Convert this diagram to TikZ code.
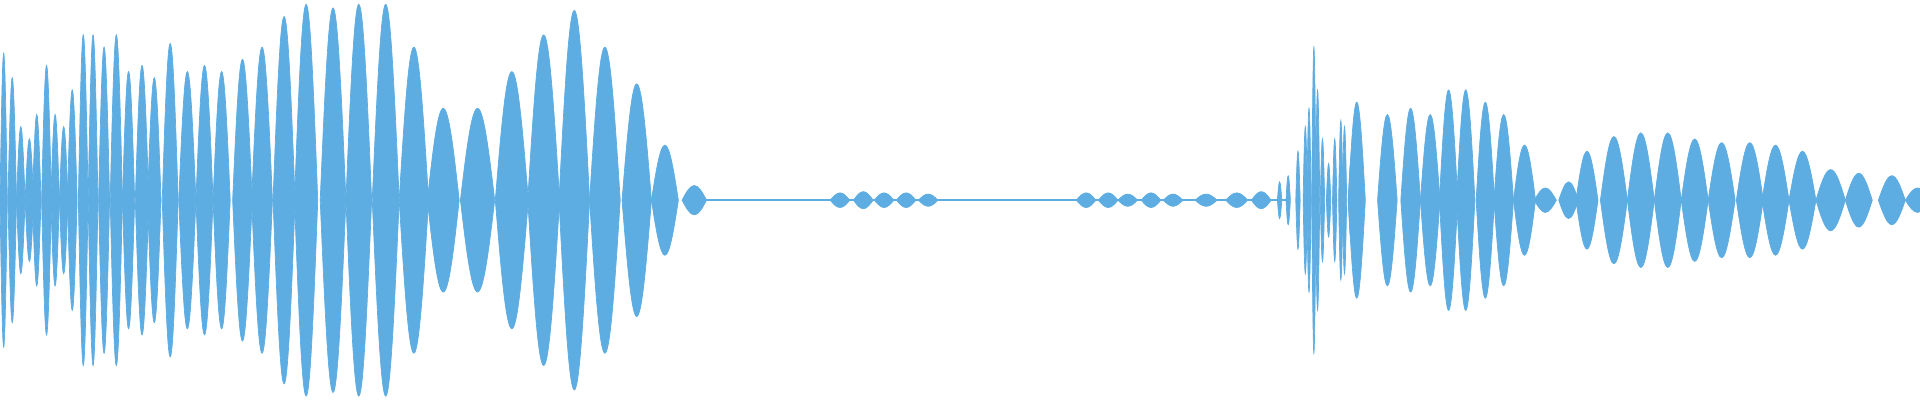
\documentclass[tikz,border=0pt]{standalone}
\usepackage{xcolor}
\definecolor{wave}{RGB}{93,172,226}
\tikzstyle{lobe}=[fill=wave, draw=wave, line width=0.2pt]

\begin{document}
\begin{tikzpicture}[x=0.012245cm, y=0.012245cm]

\useasboundingbox (0,-163.5) rectangle (1568,163.5);

% quiet stretch
\draw[wave, line width=0.6pt] (560,0) -- (1050,0);

% beat lobes: centre / half width / amplitude
\foreach \c/\w/\a in {3/3/120, 10/3.5/100, 17/3.5/60, 24/3.5/50, 30/3.5/70, 38/4/110,
  45/3.5/70, 52/3.5/60, 59/4/90, 68/4/135, 76/4/135, 85/4.5/125, 95/5/135,
  105/5/105, 116/5.5/110, 126/5.5/100, 139/6.5/128, 153/7/105, 167/7/110,
  181/7/105, 198/8/115, 214/8.5/125, 232/9/150, 250/9.5/160, 272/10.5/157,
  293/10.5/160, 315/11/160, 338/12/125, 362/13/75, 390/14/75, 418/13.5/105,
  444/13/135, 469/12.5/155, 494/12.5/125, 520/12/95, 543/11/45, 567/10/12,
  686/8/6, 705/8/7, 722/8/6, 740/8/6, 758/8/5, 887/8/6, 905/8/6, 921/8/5,
  940/8/6, 958/8/5, 985/9/5, 1010/9/6, 1030/8/7,
  1108/7/80, 1133/8/70, 1152/8/75, 1168/8/70, 1183/7.5/90, 1197/7.5/90,
  1213/7.5/80, 1228/8/70, 1245/9/45, 1262/9/10, 1281/8/15, 1296/9/40,
  1318/11/52, 1340/11/55, 1362/11/55, 1384/11/50, 1406/11/47, 1429/11/47,
  1450/11/45, 1472/11/40, 1495/12/25, 1518/11/22, 1545/11/20, 1566/10/10}{
  \path[lobe] (\c-\w,0) sin (\c,\a) cos (\c+\w,0) sin (\c,-\a) cos (\c-\w,0) -- cycle;
}

% noisy onset
\foreach \c/\a in {1045/15, 1052/20, 1060/40, 1066/60, 1069/75, 1073/125,
  1076/90, 1080/50, 1085/30, 1090/50, 1095/65, 1098/60, 1103/30}{
  \path[lobe] (\c-1.8,0) sin (\c,\a) cos (\c+1.8,0) sin (\c,-\a) cos (\c-1.8,0) -- cycle;
}

\end{tikzpicture}
\end{document}
